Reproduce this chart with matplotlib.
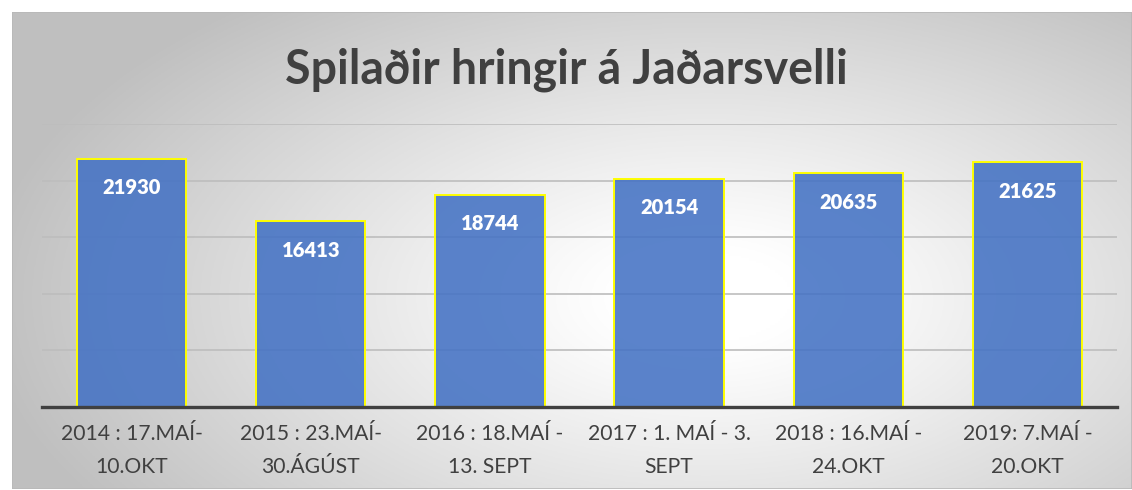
import matplotlib
matplotlib.use("Agg")
import matplotlib.pyplot as plt
import numpy as np
from matplotlib.patches import Rectangle

title = "Spilaðir hringir á Jaðarsvelli"
categories = ["2014 : 17.MAÍ-\n10.OKT", "2015 : 23.MAÍ-\n30.ÁGÚST", "2016 : 18.MAÍ -\n13. SEPT",
              "2017 : 1. MAÍ - 3.\nSEPT", "2018 : 16.MAÍ -\n24.OKT", "2019: 7.MAÍ -\n20.OKT"]
values = [21930, 16413, 18744, 20154, 20635, 21625]

W, H = 1132, 490
fig = plt.figure(figsize=(W/100, H/100), dpi=100)
fig.patch.set_facecolor("white")
FONT = "Lato"

# background gradient panel
bx0, by0, bx1, by1 = 12, 12, 1132, 489
bg = fig.add_axes([bx0/W, 1-by1/H, (bx1-bx0)/W, (by1-by0)/H], zorder=-10)
ny, nx = 200, 460
yy, xx = np.mgrid[0:1:ny*1j, 0:1:nx*1j]
cx, cy = 0.62, 0.6
r = np.sqrt(((xx-cx)/0.65)**2 + ((yy-cy)/0.8)**2)
r = np.clip(r, 0, 1)
light = 1.0 - 0.25*np.clip((r-0.12)/0.88, 0, 1)**1.1
img = np.dstack([light, light, light])
bg.imshow(img, aspect="auto", extent=[0, 1, 0, 1], origin="upper")
bg.set_xlim(0, 1); bg.set_ylim(0, 1)
bg.axis("off")
bg.add_patch(Rectangle((0, 0), 1, 1, transform=bg.transAxes, fill=False, edgecolor="#b8b8b8", lw=1.2))

# main axes
l, r_, t, b = 42, 1117, 124, 407
ax = fig.add_axes([l/W, 1-b/H, (r_-l)/W, (b-t)/H])
ax.patch.set_alpha(0)
x = np.arange(len(values))
ax.set_xlim(-0.5, len(values)-0.5)
ax.set_ylim(0, 25000)
ax.set_yticks([5000, 10000, 15000, 20000, 25000])
ax.yaxis.grid(True, color="#bdbdbd", lw=1.2)
ax.set_axisbelow(True)
ax.tick_params(axis="y", left=False, labelleft=False)
for s in ["left", "right", "top"]:
    ax.spines[s].set_visible(False)
ax.spines["bottom"].set_color("#404040")
ax.spines["bottom"].set_linewidth(2.4)
ax.spines["bottom"].set_zorder(5)

ax.bar(x, values, width=0.61, color="#4472C4", alpha=0.88, edgecolor="none", zorder=3)
ax.bar(x, values, width=0.61, color="none", edgecolor="#FFFF00", lw=1.4, zorder=4)
for xi, v in zip(x, values):
    ax.annotate(f"{v}", (xi, v), xytext=(0, -29*0.72), textcoords="offset points",
                ha="center", va="center", color="white", fontsize=14.5,
                fontweight="heavy", family=FONT, zorder=6)

ax.set_xticks(x)
ax.set_xticklabels(categories, family=FONT, fontsize=15.2, color="#404040", linespacing=1.8)
ax.tick_params(axis="x", bottom=False, pad=9)

fig.text(0.5, 1-70/H, title, ha="center", va="center", fontsize=33.5, fontweight="bold",
         color="#404040", family=FONT)

fig.savefig("out.png", dpi=100)
